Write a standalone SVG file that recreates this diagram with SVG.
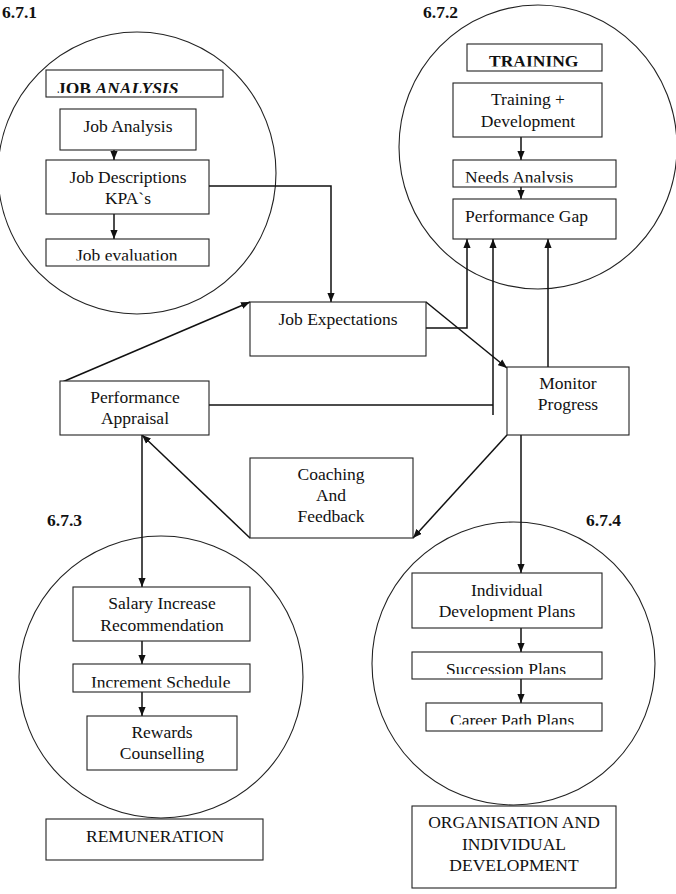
<svg xmlns="http://www.w3.org/2000/svg" width="676" height="894" viewBox="0 0 676 894">
<style>
  text { font-family: "Liberation Serif", "Times New Roman", serif; font-size: 17.5px; fill: #111; }
  .c { text-anchor: middle; }
  .b { font-weight: bold; }
  .bi { font-weight: bold; font-style: italic; }
  .box { fill: #fff; stroke: #222; stroke-width: 1.1; }
  .ring { fill: none; stroke: #222; stroke-width: 1.1; }
  .conn { fill: none; stroke: #111; stroke-width: 1.5; }
  .arr { marker-end: url(#ah); }
</style>
<defs>
  <marker id="ah" viewBox="0 0 10 8" markerWidth="9" markerHeight="7.5" refX="10" refY="4" orient="auto" markerUnits="userSpaceOnUse">
    <path d="M0,0 L10,4 L0,8 z" fill="#111"/>
  </marker>
  <clipPath id="clipJA"><rect x="46" y="70" width="177" height="23"/></clipPath>
  <clipPath id="clipJE"><rect x="46" y="239" width="163" height="21.5"/></clipPath>
  <clipPath id="clipTR"><rect x="467" y="44" width="135" height="22.5"/></clipPath>
  <clipPath id="clipNA"><rect x="453" y="160" width="163" height="22.5"/></clipPath>
  <clipPath id="clipIS"><rect x="73" y="664" width="177" height="23.5"/></clipPath>
  <clipPath id="clipSP"><rect x="412" y="652" width="190" height="22"/></clipPath>
  <clipPath id="clipCP"><rect x="426" y="703" width="176" height="21.5"/></clipPath>
</defs>
<rect x="0" y="0" width="676" height="894" fill="#fff"/>

<g id="sections">
  <g id="section-6-7-1">
    <ellipse class="ring" cx="137" cy="173" rx="139" ry="141"/>
    <text class="b" x="2" y="18">6.7.1</text>
  </g>
  <g id="section-6-7-2">
    <ellipse class="ring" cx="538" cy="147" rx="139" ry="142"/>
    <text class="b" x="423" y="18">6.7.2</text>
  </g>
  <g id="section-6-7-3">
    <ellipse class="ring" cx="161" cy="677" rx="142" ry="141"/>
    <text class="b" x="47" y="526">6.7.3</text>
  </g>
  <g id="section-6-7-4">
    <ellipse class="ring" cx="513.5" cy="663.5" rx="141.5" ry="141.5"/>
    <text class="b" x="586" y="526">6.7.4</text>
  </g>
</g>

<g id="connectors">
  <path class="conn arr" d="M114,150 L114,160"/>
  <path class="conn arr" d="M114,214 L114,239"/>
  <path class="conn arr" d="M209,186 L331,186 L331,302"/>
  <path class="conn arr" d="M521,137 L521,160"/>
  <path class="conn arr" d="M521,187 L521,199"/>
  <path class="conn arr" d="M426,328 L467,328 L467,239"/>
  <path class="conn" d="M209,405 L493,405"/>
  <path class="conn arr" d="M493,415 L493,239"/>
  <path class="conn arr" d="M548,373 L548,239"/>
  <path class="conn arr" d="M60,383 L250,302"/>
  <path class="conn arr" d="M426,302 L507,368"/>
  <path class="conn arr" d="M507,435 L413,538"/>
  <path class="conn arr" d="M250,538 L142,435"/>
  <path class="conn arr" d="M142,435 L142,587"/>
  <path class="conn arr" d="M521,431 L521,573"/>
  <path class="conn arr" d="M142,641 L142,664"/>
  <path class="conn arr" d="M142,692 L142,716"/>
  <path class="conn arr" d="M521,628 L521,652"/>
  <path class="conn arr" d="M521,679 L521,703"/>
</g>

<g id="job-analysis-title">
  <rect class="box" x="46" y="70" width="177" height="27"/>
  <text x="57" y="93.5" clip-path="url(#clipJA)"><tspan class="b">JOB </tspan><tspan class="bi">ANALYSIS</tspan></text>
</g>
<g id="job-analysis">
  <rect class="box" x="60" y="109" width="136" height="41"/>
  <text class="c" x="128" y="132">Job Analysis</text>
</g>
<g id="job-descriptions">
  <rect class="box" x="46" y="160" width="163" height="54"/>
  <text class="c" x="128" y="183">Job Descriptions</text>
  <text class="c" x="128" y="204">KPA`s</text>
</g>
<g id="job-evaluation">
  <rect class="box" x="46" y="239" width="163" height="27"/>
  <text x="76" y="261" clip-path="url(#clipJE)">Job evaluation</text>
</g>

<g id="training-title">
  <rect class="box" x="467" y="44" width="135" height="27"/>
  <text class="b" x="489" y="67" clip-path="url(#clipTR)">TRAINING</text>
</g>
<g id="training-development">
  <rect class="box" x="453" y="83" width="149" height="54"/>
  <text class="c" x="528" y="105">Training +</text>
  <text class="c" x="528" y="127">Development</text>
</g>
<g id="needs-analysis">
  <rect class="box" x="453" y="160" width="163" height="27"/>
  <text x="465" y="183" clip-path="url(#clipNA)">Needs Analysis</text>
</g>
<g id="performance-gap">
  <rect class="box" x="453" y="199" width="163" height="40"/>
  <text x="465" y="222">Performance Gap</text>
</g>

<g id="job-expectations">
  <rect class="box" x="250" y="302" width="176" height="54"/>
  <text class="c" x="338" y="325">Job Expectations</text>
</g>
<g id="performance-appraisal">
  <rect class="box" x="60" y="381" width="149" height="54"/>
  <text class="c" x="135" y="403">Performance</text>
  <text class="c" x="135" y="424">Appraisal</text>
</g>
<g id="monitor-progress">
  <rect class="box" x="507" y="367" width="122" height="68"/>
  <text class="c" x="568" y="389">Monitor</text>
  <text class="c" x="568" y="410">Progress</text>
</g>
<g id="coaching-feedback">
  <rect class="box" x="250" y="458" width="163" height="80"/>
  <text class="c" x="331" y="480">Coaching</text>
  <text class="c" x="331" y="501">And</text>
  <text class="c" x="331" y="522">Feedback</text>
</g>

<g id="salary-increase">
  <rect class="box" x="73" y="587" width="177" height="54"/>
  <text class="c" x="162" y="609">Salary Increase</text>
  <text class="c" x="162" y="631">Recommendation</text>
</g>
<g id="increment-schedule">
  <rect class="box" x="73" y="664" width="177" height="28"/>
  <text x="91" y="688" clip-path="url(#clipIS)">Increment Schedule</text>
</g>
<g id="rewards-counselling">
  <rect class="box" x="87" y="716" width="150" height="54"/>
  <text class="c" x="162" y="738">Rewards</text>
  <text class="c" x="162" y="759">Counselling</text>
</g>
<g id="remuneration">
  <rect class="box" x="46" y="819" width="217" height="41"/>
  <text class="c" x="155" y="842">REMUNERATION</text>
</g>

<g id="individual-development-plans">
  <rect class="box" x="412" y="573" width="190" height="55"/>
  <text class="c" x="507" y="596">Individual</text>
  <text class="c" x="507" y="617">Development Plans</text>
</g>
<g id="succession-plans">
  <rect class="box" x="412" y="652" width="190" height="27"/>
  <text x="446" y="675" clip-path="url(#clipSP)">Succession Plans</text>
</g>
<g id="career-path-plans">
  <rect class="box" x="426" y="703" width="176" height="28"/>
  <text x="450" y="726" clip-path="url(#clipCP)">Career Path Plans</text>
</g>
<g id="organisation-development">
  <rect class="box" x="412" y="806" width="204" height="82"/>
  <text class="c" x="514" y="828">ORGANISATION AND</text>
  <text class="c" x="514" y="850">INDIVIDUAL</text>
  <text class="c" x="514" y="871">DEVELOPMENT</text>
</g>
</svg>
